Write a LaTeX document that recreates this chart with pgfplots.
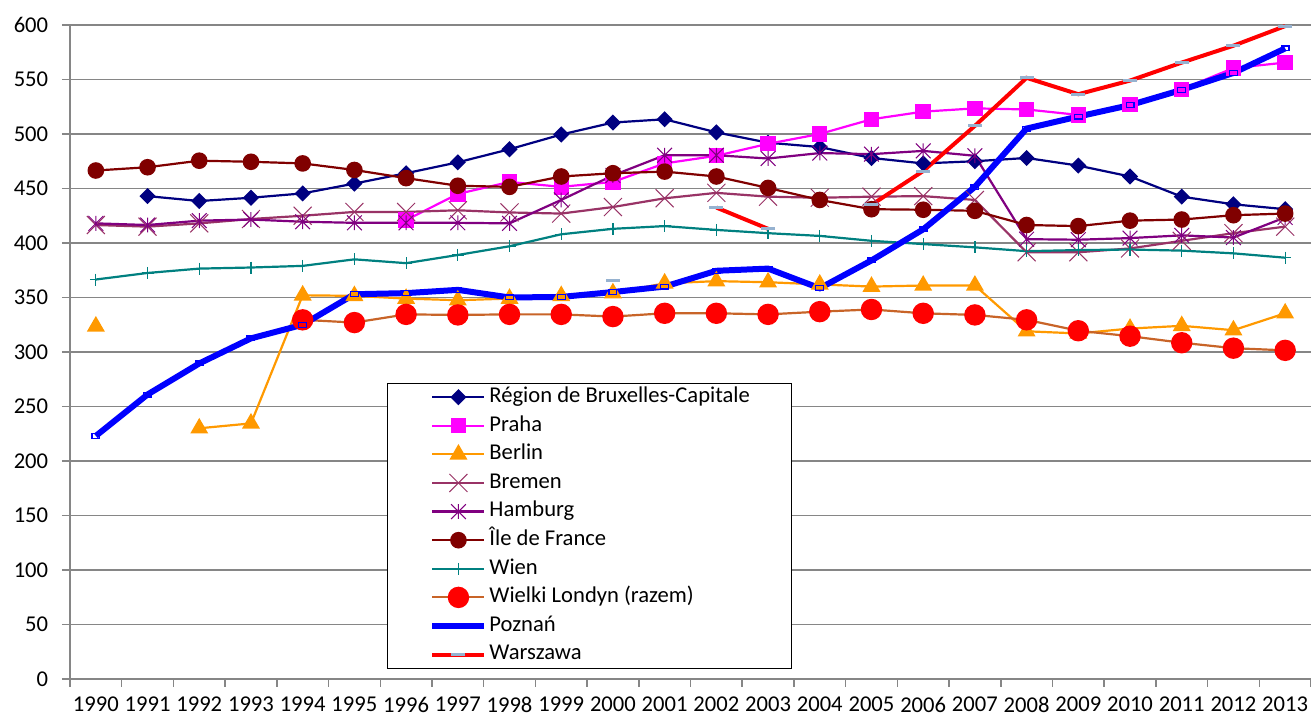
\documentclass[border=0pt]{standalone}
\usepackage{pgfplots}
\usepackage{pgfplotstable}
\pgfplotsset{compat=1.18}
\usepackage{fontspec}
\setmainfont{Carlito}
\definecolor{cBrux}{RGB}{0,0,128}
\definecolor{cPraha}{RGB}{255,0,255}
\definecolor{cBerlin}{RGB}{255,153,0}
\definecolor{cBremen}{RGB}{153,51,102}
\definecolor{cHamb}{RGB}{128,0,128}
\definecolor{cIdf}{RGB}{128,0,0}
\definecolor{cWien}{RGB}{0,128,128}
\definecolor{cLonLine}{RGB}{200,100,40}
\definecolor{cLonMark}{RGB}{255,0,0}
\definecolor{cPoz}{RGB}{0,0,255}
\definecolor{cWar}{RGB}{255,0,0}
\definecolor{cWarMark}{RGB}{150,178,208}
\definecolor{cGrid}{RGB}{134,134,134}
\pgfdeclareplotmark{xx}{%
  \pgfpathmoveto{\pgfqpoint{-\pgfplotmarksize}{-\pgfplotmarksize}}%
  \pgfpathlineto{\pgfqpoint{\pgfplotmarksize}{\pgfplotmarksize}}%
  \pgfpathmoveto{\pgfqpoint{-\pgfplotmarksize}{\pgfplotmarksize}}%
  \pgfpathlineto{\pgfqpoint{\pgfplotmarksize}{-\pgfplotmarksize}}%
  \pgfusepathqstroke}
\pgfdeclareplotmark{xstar}{%
  \pgfpathmoveto{\pgfqpoint{-\pgfplotmarksize}{-\pgfplotmarksize}}%
  \pgfpathlineto{\pgfqpoint{\pgfplotmarksize}{\pgfplotmarksize}}%
  \pgfpathmoveto{\pgfqpoint{-\pgfplotmarksize}{\pgfplotmarksize}}%
  \pgfpathlineto{\pgfqpoint{\pgfplotmarksize}{-\pgfplotmarksize}}%
  \pgfpathmoveto{\pgfqpoint{0pt}{-\pgfplotmarksize}}%
  \pgfpathlineto{\pgfqpoint{0pt}{\pgfplotmarksize}}%
  \pgfusepathqstroke}
\pgfplotstableread{
i brux praha berlin bremen hamb idf wien lon poz war
0 nan nan 323.5 416.5 418 466.5 366.5 nan 223 nan
1 443 nan nan 415 416.5 469.5 372.5 nan 261 nan
2 438.5 nan 230 418 420.5 475.5 376.5 nan 289.5 nan
3 441.5 nan 234.5 422 421.5 474.5 377.5 nan 312.5 nan
4 445.5 nan 352 425 419.5 473 379 329.5 325 nan
5 454.5 nan 351.5 428.5 418.5 467 385 327 353 nan
6 464 421 349 428.5 418.5 459.5 381.5 334.5 354 nan
7 474 445 347.5 430 418.5 452.5 389 334 357 nan
8 486 456 349 428 418 451.5 397 334.5 350 nan
9 499.5 451.5 351.5 427 439.5 461 408 334.5 350.5 nan
10 510.5 456 354 433 462 464 413 332.5 355 365.5
11 513.5 473 363 441 480.5 465.5 415.5 335.5 360 nan
12 501.5 480 365 446 480.5 461 412 335.5 374.5 432.5
13 492 491 364 442.5 477.5 450.5 409 334.5 376.5 413
14 488 500 362 441.5 482.5 439.5 406.5 337 358.5 nan
15 478 513.5 360 442.5 481.5 431 402 339 384 435
16 473 520.5 361 443 484.5 430.5 399 335.5 412.5 466
17 475 523.5 361 439.5 480 429.5 396 334 451.5 507.5
18 478 522.5 319 391.5 403.5 416.5 392.5 329.5 505 551.5
19 471 517.5 317 391.5 403 415.5 393.5 319.5 516 536.5
20 461 527 321.5 395 404.5 420.5 394 314.5 526.5 549
21 442.5 541 324 402 407 421.5 393 308.5 540.5 565.5
22 435.5 560.5 320 409 405 425.5 390.5 303.5 556 581
23 431 565.5 335.5 415 423.5 427 386.5 301.5 578.5 599
}\data
\begin{document}
\begin{tikzpicture}
\begin{axis}[
  name=ax,
  width=620.5pt, height=327pt, scale only axis,
  xmin=-0.5, xmax=23.5, ymin=0, ymax=600,
  axis x line*=bottom, axis y line*=left,
  axis line style={-, draw=cGrid, line width=0.75pt},
  xtick={0,...,23},
  xticklabels={1990,1991,1992,1993,1994,1995,1996,1997,1998,1999,2000,2001,2002,2003,2004,2005,2006,2007,2008,2009,2010,2011,2012,2013},
  ytick={0,50,...,600},
  minor xtick={-0.5,0.5,...,23.5},
  minor ytick={0,50,...,600},
  major tick length=0pt, minor tick length=4pt, tick align=outside,
  every tick/.style={draw=cGrid, line width=0.75pt},
  ymajorgrids,
  grid style={draw=cGrid, line width=0.75pt},
  font=\fontsize{11.3}{13.5}\selectfont,
  /pgf/number format/assume math mode=true,
  yticklabel style={xshift=-7.4pt},
  xticklabel style={yshift=-5.6pt},
  unbounded coords=jump,
  legend cell align=left,
  legend style={at={(0.2554,0.4526)}, anchor=north west, draw=black, line width=0.5pt,
    fill=white, inner xsep=21pt, inner ysep=2pt, row sep=4.6pt, column sep=1pt,
    nodes={inner sep=0pt, text height=7.5pt, text depth=2.2pt},
    font=\fontsize{11.3}{13.5}\selectfont},
  legend image code/.code={%
    \draw[mark repeat=2,mark phase=2] plot coordinates {(0pt,0pt) (13pt,0pt) (26pt,0pt)};},
]
\addplot[cBrux, line width=1.1pt, mark=square*, mark size=2.3pt,
  mark options={solid, rotate=45, fill=cBrux, draw=cBrux}] table[x=i,y=brux]{\data};
\addlegendentry{Région de Bruxelles-Capitale}
\addplot[cPraha, line width=1.1pt, mark=square*, mark size=3.3pt,
  mark options={solid, fill=cPraha, draw=cPraha}] table[x=i,y=praha]{\data};
\addlegendentry{Praha}
\addplot[cBerlin, line width=1.1pt, mark=triangle*, mark size=4.1pt,
  mark options={solid, fill=cBerlin, draw=cBerlin}] table[x=i,y=berlin]{\data};
\addlegendentry{Berlin}
\addplot[cBremen, line width=1.1pt, mark=xx, mark size=4.5pt,
  mark options={solid, line width=0.5pt}] table[x=i,y=bremen]{\data};
\addlegendentry{Bremen}
\addplot[cHamb, line width=1.1pt, mark=xstar, mark size=3.7pt,
  mark options={solid, line width=0.5pt}] table[x=i,y=hamb]{\data};
\addlegendentry{Hamburg}
\addplot[cIdf, line width=1.1pt, mark=*, mark size=3.6pt,
  mark options={solid, fill=cIdf, draw=cIdf}] table[x=i,y=idf]{\data};
\addlegendentry{Île de France}
\addplot[cWien, line width=1.1pt, mark=+, mark size=3pt,
  mark options={solid, line width=0.6pt}] table[x=i,y=wien]{\data};
\addlegendentry{Wien}
\addplot[cLonLine, line width=1.1pt, mark=*, mark size=4.8pt,
  mark options={solid, fill=cLonMark, draw=cLonMark}] table[x=i,y=lon]{\data};
\addlegendentry{Wielki Londyn (razem)}
\addplot[cPoz, line width=3pt, mark=square, mark size=1.5pt,
  mark options={solid, fill=white, draw=cPoz, line width=0.6pt, xscale=1.3, yscale=0.8}] table[x=i,y=poz]{\data};
\addlegendentry{Poznań}
\addplot[cWar, line width=2pt, mark=-, mark size=3.5pt,
  mark options={solid, draw=cWarMark, line width=1.5pt}] table[x=i,y=war]{\data};
\addlegendentry{Warszawa}
\end{axis}
\pgfresetboundingbox
\path[use as bounding box] ([shift={(-35pt,-18.5pt)}]ax.south west) rectangle ([shift={(0pt,12.5pt)}]ax.north east);
\end{tikzpicture}
\end{document}
